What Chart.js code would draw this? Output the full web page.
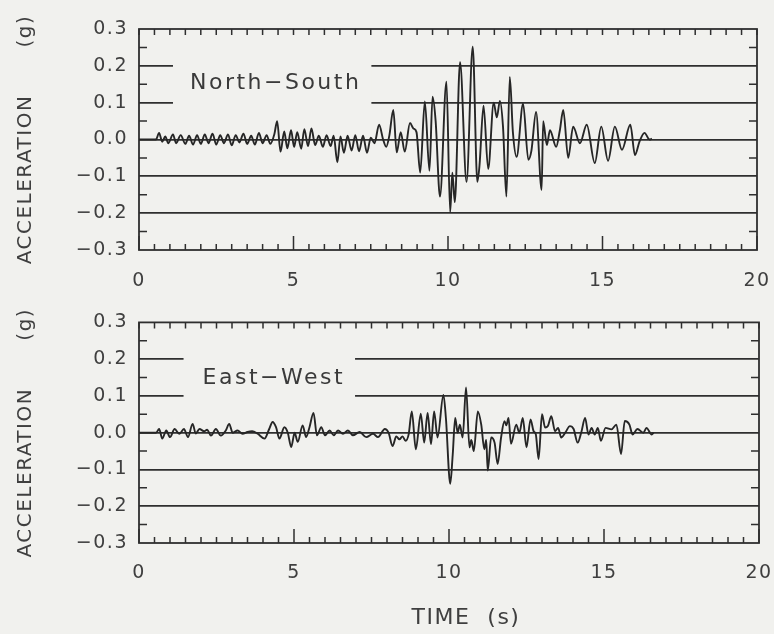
<!DOCTYPE html>
<html>
<head>
<meta charset="utf-8">
<script src="https://cdn.jsdelivr.net/npm/chart.js@4.4.1/dist/chart.umd.min.js"></script>
<style>
    html, body { margin: 0; padding: 0; background: #f1f1ee; }
    #hoja { position: relative; width: 774px; height: 634px; overflow: hidden; }
    canvas { position: absolute; left: 0; }
    #graficoNS { top: 0; }
    #graficoEW { top: 300px; }
</style>
</head>
<body>
<div id="hoja">
    <canvas id="graficoNS" width="774" height="300"></canvas>
    <canvas id="graficoEW" width="774" height="334"></canvas>
</div>
<script>
const nsTiempo = [
    0, 0.55, 0.65, 0.75, 0.85, 0.95, 1.1, 1.2, 1.35, 1.5,
    1.62, 1.75, 1.88, 2.0, 2.13, 2.25, 2.38, 2.5, 2.63, 2.75,
    2.88, 3.0, 3.13, 3.25, 3.38, 3.5, 3.63, 3.75, 3.88, 4.0,
    4.13, 4.25, 4.38, 4.47, 4.58, 4.7, 4.8, 4.92, 5.02, 5.12,
    5.25, 5.35, 5.47, 5.58, 5.7, 5.82, 5.95, 6.07, 6.2, 6.3,
    6.42, 6.52, 6.63, 6.75, 6.88, 7.0, 7.12, 7.25, 7.38, 7.5,
    7.62, 7.77, 7.9, 8.0, 8.1, 8.23, 8.34, 8.47, 8.6, 8.77,
    8.88, 8.98, 9.1, 9.25, 9.4, 9.5, 9.6, 9.74, 9.95, 10.07,
    10.14, 10.22, 10.39, 10.6, 10.8, 10.95, 11.02, 11.15, 11.3, 11.48,
    11.58, 11.68, 11.78, 11.89, 12.0, 12.1, 12.22, 12.43, 12.6, 12.7,
    12.85, 13.03, 13.08, 13.2, 13.3, 13.5, 13.62, 13.73, 13.89, 14.05,
    14.27, 14.49, 14.75, 14.96, 15.18, 15.4, 15.63, 15.9, 16.05, 16.2,
    16.36, 16.52, 16.6
];
const nsAcel = [
    0, 0, 0.018, -0.006, 0.008, -0.01, 0.014, -0.01, 0.012, -0.012,
    0.01, -0.014, 0.012, -0.012, 0.014, -0.01, 0.016, -0.014, 0.012, -0.01,
    0.014, -0.016, 0.012, -0.008, 0.016, -0.012, 0.01, -0.014, 0.018, -0.01,
    0.012, -0.012, 0.014, 0.05, -0.033, 0.022, -0.024, 0.025, -0.02, 0.02,
    -0.025, 0.028, -0.018, 0.03, -0.015, 0.01, -0.02, 0.012, -0.018, 0.01,
    -0.062, 0.008, -0.036, 0.01, -0.03, 0.012, -0.032, 0.01, -0.036, 0.005,
    -0.01, 0.04, 0.0, -0.02, 0.01, 0.08, -0.035, 0.02, -0.033, 0.045,
    0.03, 0.02, -0.09, 0.103, -0.085, 0.116, 0.05, -0.155, 0.157, -0.197,
    -0.09, -0.17, 0.21, -0.115, 0.252, -0.115, -0.07, 0.092, -0.08, 0.1,
    0.06, 0.105, 0.035, -0.155, 0.17, 0.02, -0.047, 0.097, -0.055, -0.03,
    0.075, -0.137, 0.05, -0.015, 0.025, -0.02, 0.025, 0.08, -0.05, 0.035,
    -0.01, 0.04, -0.064, 0.035, -0.058, 0.035, -0.028, 0.04, -0.042, -0.005,
    0.018, 0.0, 0.002
];

// Este-Oeste
const ewTiempo = [
    0, 0.55, 0.65, 0.75, 0.88, 1.0, 1.15, 1.3, 1.45, 1.58,
    1.73, 1.83, 1.95, 2.1, 2.2, 2.32, 2.48, 2.64, 2.8, 2.91,
    3.02, 3.18, 3.34, 3.5, 3.65, 3.83, 4.05, 4.2, 4.31, 4.42,
    4.53, 4.69, 4.8, 4.91, 5.02, 5.12, 5.28, 5.39, 5.5, 5.63,
    5.74, 5.88, 6.0, 6.15, 6.28, 6.42, 6.58, 6.74, 6.9, 7.12,
    7.33, 7.55, 7.71, 7.93, 8.05, 8.18, 8.3, 8.4, 8.5, 8.6,
    8.7, 8.8, 8.93, 9.09, 9.2, 9.31, 9.42, 9.52, 9.63, 9.82,
    9.9, 10.04, 10.12, 10.2, 10.28, 10.35, 10.44, 10.55, 10.66, 10.72,
    10.8, 10.93, 11.04, 11.14, 11.2, 11.25, 11.36, 11.47, 11.57, 11.68,
    11.79, 11.85, 11.92, 12.0, 12.17, 12.27, 12.38, 12.5, 12.63, 12.73,
    12.8, 12.89, 13.0, 13.1, 13.19, 13.3, 13.42, 13.52, 13.62, 13.75,
    13.9, 14.02, 14.15, 14.27, 14.39, 14.5, 14.6, 14.7, 14.8, 14.9,
    15.05, 15.24, 15.4, 15.55, 15.67, 15.82, 15.92, 16.08, 16.27, 16.37,
    16.54, 16.6
];
const ewAcel = [
    0, 0, 0.01, -0.016, 0.006, -0.012, 0.01, -0.003, 0.01, -0.012,
    0.024, -0.002, 0.01, 0.004, 0.008, -0.008, 0.01, -0.008, 0.006, 0.024,
    0.0, 0.006, -0.003, 0.002, 0.004, -0.003, -0.016, 0.01, 0.029, 0.015,
    -0.016, 0.015, 0.0, -0.039, 0.0, -0.025, 0.02, -0.012, 0.015, 0.054,
    -0.007, 0.015, -0.007, 0.006, -0.007, 0.006, -0.003, 0.006, -0.007, 0.002,
    -0.012, -0.003, -0.012, 0.01, 0.0, -0.036, -0.01, -0.018, -0.01, -0.022,
    -0.004, 0.058, -0.045, 0.052, -0.027, 0.054, -0.031, 0.058, -0.013, 0.103,
    0.04, -0.139, -0.06, 0.04, 0.0, 0.022, -0.013, 0.123, -0.04, -0.02,
    -0.05, 0.058, 0.022, -0.045, -0.02, -0.103, -0.013, -0.027, -0.085, -0.013,
    0.031, 0.02, 0.04, -0.03, 0.022, 0.0, 0.04, -0.04, 0.036, 0.004,
    -0.004, -0.072, 0.05, 0.014, 0.018, 0.045, 0.004, 0.013, -0.013, 0.0,
    0.018, 0.01, -0.027, 0.002, 0.04, -0.005, 0.013, -0.005, 0.013, -0.022,
    0.013, 0.009, 0.022, -0.058, 0.032, 0.022, -0.005, 0.01, 0.0, 0.013,
    -0.005, 0.0
];

const etiquetasX = [0, 5, 10, 15, 20];
const etiquetasY = [-0.3, -0.2, -0.1, 0.0, 0.1, 0.2, 0.3];

const TINTA = "#2f2f2f";
const FONDO = "#f1f1ee";
Chart.defaults.font.family = "'DejaVu Sans', sans-serif";
Chart.defaults.color = "#3f3f3f";

function esEtiqueta(v, lista) {
    return lista.some(e => Math.abs(e - v) < 1e-6);
}

function textoY(v) {
    if (Math.abs(v) < 1e-6) return "0.0";
    let s = Math.abs(v).toFixed(1);
    return v < 0 ? "\u2212" + s : s;
}

// marco, marcas menores y rotulo de la componente
const marco = {
    id: "marco",
    beforeDraw(chart) {
        chart.ctx.letterSpacing = "1.5px";
    },
    beforeDatasetsDraw(chart, args, opts) {
        let ctx = chart.ctx;
        let { left, right, top, bottom } = chart.chartArea;
        let x = chart.scales.x, y = chart.scales.y;
        ctx.save();

        // hueco en la reticula para el rotulo
        ctx.font = "22px 'DejaVu Sans'";
        ctx.letterSpacing = "2.5px";
        let px = x.getPixelForValue(opts.t);
        let py = y.getPixelForValue(opts.a);
        let ancho = ctx.measureText(opts.texto).width;
        ctx.fillStyle = FONDO;
        ctx.fillRect(px - opts.padIzq, py - 26, ancho + opts.padIzq + opts.padDer, 52);
        ctx.fillStyle = "#3a3a3a";
        ctx.textBaseline = "middle";
        ctx.textAlign = "left";
        ctx.fillText(opts.texto, px, py);

        ctx.strokeStyle = TINTA;
        ctx.lineWidth = 1.8;
        ctx.strokeRect(left, top, right - left, bottom - top);

        ctx.lineWidth = 1.5;
        ctx.beginPath();
        y.ticks.forEach(t => {
            if (esEtiqueta(t.value, etiquetasY)) return;
            let yy = y.getPixelForValue(t.value);
            ctx.moveTo(left, yy); ctx.lineTo(left + 8, yy);
            ctx.moveTo(right, yy); ctx.lineTo(right - 8, yy);
        });
        x.ticks.forEach(t => {
            let xx = x.getPixelForValue(t.value);
            let largo = esEtiqueta(t.value, etiquetasX) ? 14 : 6;
            ctx.moveTo(xx, top); ctx.lineTo(xx, top + 6);
            ctx.moveTo(xx, bottom); ctx.lineTo(xx, bottom - largo);
        });
        ctx.stroke();
        ctx.restore();
    }
};

function crearGrafico(id, tiempos, valores, rotulo, disp) {
    let ctx = document.getElementById(id).getContext("2d");
    return new Chart(ctx, {
        type: "line",
        data: {
            datasets: [{
                data: tiempos.map((t, i) => ({ x: t, y: valores[i] })),
                borderColor: "#262626",
                borderWidth: 1.9,
                pointRadius: 0,
                cubicInterpolationMode: "monotone",
                fill: false
            }]
        },
        options: {
            responsive: false,
            animation: false,
            events: [],
            layout: { padding: { top: disp.arriba, right: disp.derecha, left: 0, bottom: 0 } },
            plugins: {
                legend: { display: false },
                tooltip: { enabled: false },
                marco: rotulo
            },
            scales: {
                x: {
                    type: "linear",
                    min: 0,
                    max: 20,
                    afterFit: s => {
                        s.height = disp.altoX;
                        s.paddingLeft = 0;
                        s.paddingRight = 0;
                    },
                    grid: { display: false },
                    border: { display: false },
                    ticks: {
                        stepSize: 0.5,
                        autoSkip: false,
                        maxRotation: 0,
                        padding: disp.padX,
                        font: { size: 19 },
                        callback: v => esEtiqueta(v, etiquetasX) ? String(v) : ""
                    },
                    title: {
                        display: disp.tituloX,
                        text: "    TIME  (s)",
                        font: { size: 22 },
                        padding: { top: 0, bottom: 3 }
                    }
                },
                y: {
                    min: -0.3,
                    max: 0.3,
                    afterFit: s => { s.width = 139; },
                    border: { display: false },
                    grid: {
                        drawTicks: false,
                        lineWidth: 1.7,
                        color: c => {
                            let v = c.tick.value;
                            if (Math.abs(Math.abs(v) - 0.3) < 1e-6) return "rgba(0,0,0,0)";
                            return esEtiqueta(v, etiquetasY) ? TINTA : "rgba(0,0,0,0)";
                        }
                    },
                    ticks: {
                        stepSize: 0.05,
                        autoSkip: false,
                        padding: 11,
                        font: { size: 19 },
                        callback: v => esEtiqueta(v, etiquetasY) ? textoY(v) : ""
                    },
                    title: {
                        display: true,
                        text: "ACCELERATION      (g)",
                        font: { size: 20 },
                        padding: { top: 14, bottom: 0 }
                    }
                }
            }
        },
        plugins: [marco]
    });
}

crearGrafico("graficoNS", nsTiempo, nsAcel,
    { texto: "North\u2212South", t: 1.65, a: 0.153, padIzq: 17, padDer: 10 },
    { arriba: 29, derecha: 17, altoX: 50, tituloX: false, padX: 12 });

crearGrafico("graficoEW", ewTiempo, ewAcel,
    { texto: "East\u2212West", t: 2.05, a: 0.147, padIzq: 19, padDer: 10 },
    { arriba: 22, derecha: 15, altoX: 91, tituloX: true, padX: 11 });
</script>
</body>
</html>
